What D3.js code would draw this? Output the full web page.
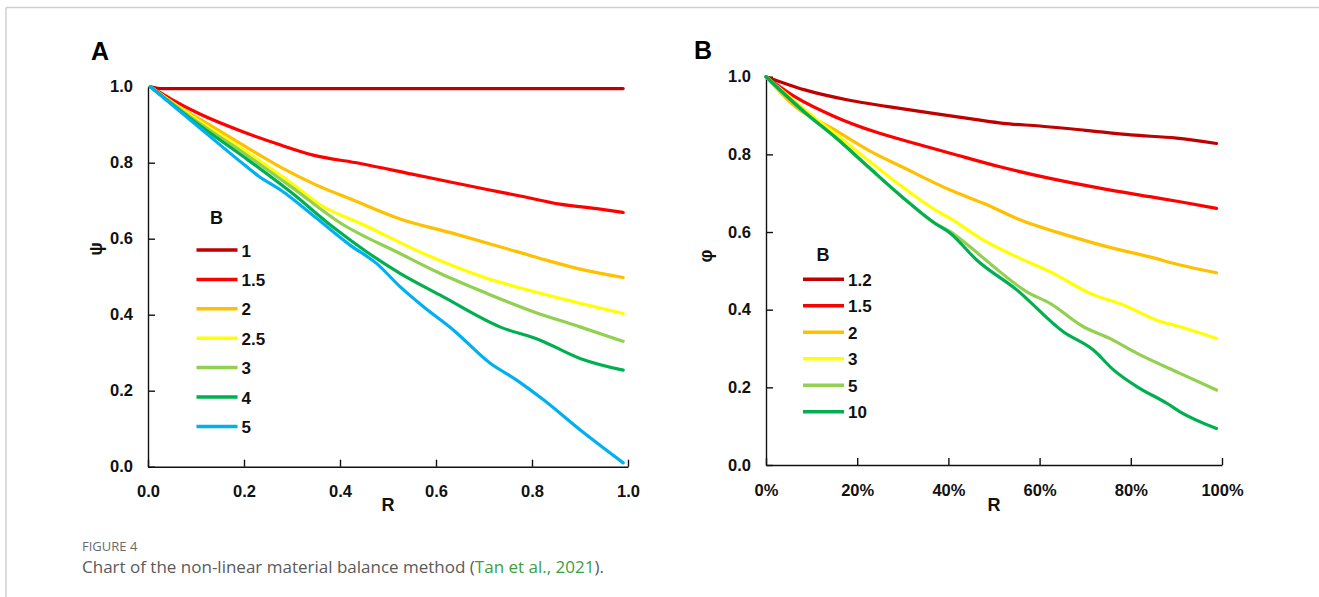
<!DOCTYPE html>
<html>
<head>
<meta charset="utf-8">
<script src="https://cdn.jsdelivr.net/npm/d3@7"></script>
<style>
  html, body { margin: 0; padding: 0; background: #fff; }
  svg { display: block; }
  .ax text { font-family: Arial, "Liberation Sans", sans-serif; font-weight: bold; font-size: 16.5px; fill: #111; }
  .ax path, .ax line { stroke: #111; stroke-width: 1.4; }
</style>
</head>
<body>
<svg id="chart" width="1319" height="597"></svg>
<script>
// ---------- DATA ----------
// Panel A: psi vs R, series by B
const seriesA_names = ["1", "1.5", "2", "2.5", "3", "4", "5"];
const seriesA_colors = ["#C00000", "#FF0000", "#FFC000", "#FFFF00", "#92D050", "#00B050", "#00B0F0"];
const A_B1   = [[0.005,1.0],[0.03,0.995],[0.5,0.995],[0.99,0.995]];
const A_B1_5 = [[0.005,1.0],[0.05,0.966],[0.108,0.928],[0.192,0.884],[0.275,0.847],[0.344,0.820],[0.442,0.798],[0.55,0.770],[0.627,0.750],[0.704,0.730],[0.781,0.711],[0.858,0.691],[0.935,0.679],[0.99,0.669]];
const A_B2   = [[0.005,1.0],[0.053,0.956],[0.122,0.904],[0.192,0.851],[0.275,0.789],[0.351,0.741],[0.421,0.705],[0.525,0.652],[0.636,0.614],[0.733,0.579],[0.817,0.548],[0.9,0.520],[0.99,0.498]];
const A_B2_5 = [[0.005,1.0],[0.1,0.915],[0.2,0.833],[0.3,0.745],[0.358,0.690],[0.45,0.636],[0.581,0.557],[0.706,0.496],[0.803,0.461],[0.9,0.430],[0.99,0.403]];
const A_B3   = [[0.005,1.0],[0.1,0.910],[0.2,0.825],[0.3,0.735],[0.4,0.642],[0.525,0.561],[0.608,0.509],[0.706,0.456],[0.803,0.408],[0.9,0.368],[0.99,0.330]];
const A_B4   = [[0.005,1.0],[0.1,0.905],[0.2,0.815],[0.3,0.720],[0.386,0.630],[0.456,0.565],[0.525,0.509],[0.608,0.452],[0.733,0.368],[0.817,0.333],[0.9,0.285],[0.99,0.254]];
const A_B5   = [[0.005,1.0],[0.1,0.900],[0.2,0.795],[0.23,0.765],[0.28,0.725],[0.35,0.655],[0.421,0.583],[0.476,0.535],[0.525,0.474],[0.574,0.421],[0.636,0.360],[0.713,0.272],[0.768,0.228],[0.824,0.176],[0.9,0.097],[0.99,0.010]];
const seriesA = [A_B1, A_B1_5, A_B2, A_B2_5, A_B3, A_B4, A_B5];
const ticksA_x = [0, 0.2, 0.4, 0.6, 0.8, 1.0];
const ticksA_y = [0, 0.2, 0.4, 0.6, 0.8, 1.0];

// Panel B: phi vs R (fraction), series by B
const seriesB_names = ["1.2", "1.5", "2", "3", "5", "10"];
const seriesB_colors = ["#C00000", "#FF0000", "#FFC000", "#FFFF00", "#92D050", "#00B050"];
const B_B1_2 = [[0,1.0],[0.085,0.966],[0.18,0.940],[0.268,0.923],[0.363,0.906],[0.458,0.890],[0.52,0.880],[0.6,0.873],[0.7,0.862],[0.8,0.850],[0.9,0.842],[0.988,0.828]];
const B_B1_5 = [[0,1.0],[0.064,0.948],[0.151,0.897],[0.239,0.858],[0.327,0.828],[0.404,0.803],[0.513,0.768],[0.623,0.738],[0.732,0.713],[0.842,0.691],[0.908,0.678],[0.988,0.661]];
const B_B2   = [[0,1.0],[0.064,0.923],[0.151,0.863],[0.224,0.811],[0.298,0.768],[0.404,0.708],[0.477,0.674],[0.55,0.635],[0.659,0.592],[0.762,0.558],[0.842,0.536],[0.908,0.515],[0.988,0.495]];
const B_B3   = [[0,1.0],[0.085,0.915],[0.159,0.846],[0.224,0.785],[0.298,0.717],[0.371,0.657],[0.404,0.635],[0.477,0.579],[0.55,0.536],[0.623,0.498],[0.711,0.442],[0.784,0.412],[0.857,0.373],[0.908,0.356],[0.988,0.326]];
const B_B5   = [[0,1.0],[0.085,0.910],[0.159,0.837],[0.224,0.768],[0.298,0.691],[0.371,0.622],[0.404,0.601],[0.444,0.565],[0.491,0.519],[0.572,0.446],[0.623,0.416],[0.696,0.356],[0.754,0.326],[0.813,0.288],[0.908,0.236],[0.988,0.193]];
const B_B10  = [[0,1.0],[0.085,0.908],[0.159,0.837],[0.224,0.768],[0.298,0.691],[0.371,0.622],[0.404,0.597],[0.462,0.528],[0.55,0.451],[0.652,0.343],[0.718,0.296],[0.762,0.245],[0.813,0.202],[0.879,0.159],[0.908,0.137],[0.988,0.094]];
const seriesB = [B_B1_2, B_B1_5, B_B2, B_B3, B_B5, B_B10];
const ticksB_x = [0, 0.2, 0.4, 0.6, 0.8, 1.0];
const ticksB_y = [0, 0.2, 0.4, 0.6, 0.8, 1.0];

// ---------- DRAW ----------
const svg = d3.select("#chart");
const FONT = 'Arial, "Liberation Sans", sans-serif';

// card border
svg.append("line").attr("x1", 6).attr("x2", 1319).attr("y1", 7.5).attr("y2", 7.5).attr("stroke", "#d0d0d0").attr("stroke-width", 1.5);
svg.append("line").attr("x1", 6).attr("x2", 6).attr("y1", 7.5).attr("y2", 597).attr("stroke", "#d0d0d0").attr("stroke-width", 1.5);

function panel(cfg) {
  const x = d3.scaleLinear().domain([0, 1]).range([cfg.x0, cfg.x1]);
  const y = d3.scaleLinear().domain([0, 1]).range([cfg.y0, cfg.y1]);
  const g = svg.append("g");

  // axes
  g.append("g").attr("class", "ax").attr("transform", `translate(0,${cfg.y0})`)
    .call(d3.axisBottom(x).tickValues(cfg.ticksX).tickFormat(cfg.fmtX).tickSize(-7).tickSizeOuter(0).tickPadding(19));
  g.append("g").attr("class", "ax").attr("transform", `translate(${cfg.x0},0)`)
    .call(d3.axisLeft(y).tickValues(cfg.ticksY).tickFormat(d3.format(".1f")).tickSize(-7).tickSizeOuter(0).tickPadding(15));

  // lines
  const line = d3.line().x(d => x(d[0])).y(d => y(d[1])).curve(d3.curveMonotoneX);
  cfg.series.forEach((s, i) => {
    g.append("path").attr("d", line(s)).attr("fill", "none")
      .attr("stroke", cfg.colors[i]).attr("stroke-width", 3.2)
      .attr("stroke-linejoin", "round").attr("stroke-linecap", "round");
  });

  // axis titles
  g.append("text").attr("x", cfg.rx).attr("y", cfg.ry).attr("text-anchor", "middle")
    .attr("dominant-baseline", "central").style("font-family", FONT).style("font-weight", "bold")
    .style("font-size", "18px").attr("fill", "#111").text("R");
  g.append("text").attr("transform", `translate(${cfg.yx},${cfg.yy}) rotate(-90)`).attr("text-anchor", "middle")
    .attr("dominant-baseline", "central").style("font-family", FONT).style("font-weight", "bold")
    .style("font-size", "18px").attr("fill", "#111").text(cfg.ylab);

  // panel letter
  g.append("text").attr("x", cfg.lx).attr("y", cfg.ly).attr("text-anchor", "middle")
    .attr("dominant-baseline", "central").style("font-family", FONT).style("font-weight", "bold")
    .style("font-size", "25px").attr("fill", "#000").text(cfg.letter);

  // legend
  const lg = g.append("g");
  lg.append("text").attr("x", cfg.legX + 20).attr("y", cfg.legTitleY).attr("text-anchor", "middle")
    .attr("dominant-baseline", "central").style("font-family", FONT).style("font-weight", "bold")
    .style("font-size", "18px").attr("fill", "#111").text("B");
  cfg.names.forEach((n, i) => {
    const yy = cfg.legY0 + i * cfg.legDy;
    lg.append("line").attr("x1", cfg.legX).attr("x2", cfg.legX + 41).attr("y1", yy).attr("y2", yy)
      .attr("stroke", cfg.colors[i]).attr("stroke-width", 3.5);
    lg.append("text").attr("x", cfg.legX + 45).attr("y", yy + 1).attr("dominant-baseline", "central")
      .style("font-family", FONT).style("font-weight", "bold").style("font-size", "17px").attr("fill", "#111").text(n);
  });
}

panel({
  x0: 148, x1: 628, y0: 466.7, y1: 86.7,
  ticksX: ticksA_x, ticksY: ticksA_y, fmtX: d3.format(".1f"),
  series: seriesA, colors: seriesA_colors, names: seriesA_names,
  rx: 388, ry: 505, ylab: "ψ", yx: 96, yy: 249,
  letter: "A", lx: 100, ly: 51,
  legX: 196.5, legTitleY: 218, legY0: 250, legDy: 29.4
});

panel({
  x0: 766, x1: 1222, y0: 465, y1: 76.7,
  ticksX: ticksB_x, ticksY: ticksB_y, fmtX: d3.format(".0%"),
  series: seriesB, colors: seriesB_colors, names: seriesB_names,
  rx: 994, ry: 505, ylab: "φ", yx: 706, yy: 256,
  letter: "B", lx: 703, ly: 50,
  legX: 803, legTitleY: 255, legY0: 279.3, legDy: 26.5
});

// caption
svg.append("text").attr("x", 82).attr("y", 551).style("font-family", '"Open Sans", sans-serif')
  .style("font-size", "13px").attr("fill", "#6b6b6b").text("FIGURE 4");
const cap = svg.append("text").attr("x", 82).attr("y", 573).style("font-family", '"Open Sans", sans-serif')
  .style("font-size", "17px").attr("fill", "#5a5a5a");
cap.append("tspan").text("Chart of the non-linear material balance method (");
cap.append("tspan").attr("fill", "#3aa040").text("Tan et al., 2021");
cap.append("tspan").text(").");
</script>
</body>
</html>
